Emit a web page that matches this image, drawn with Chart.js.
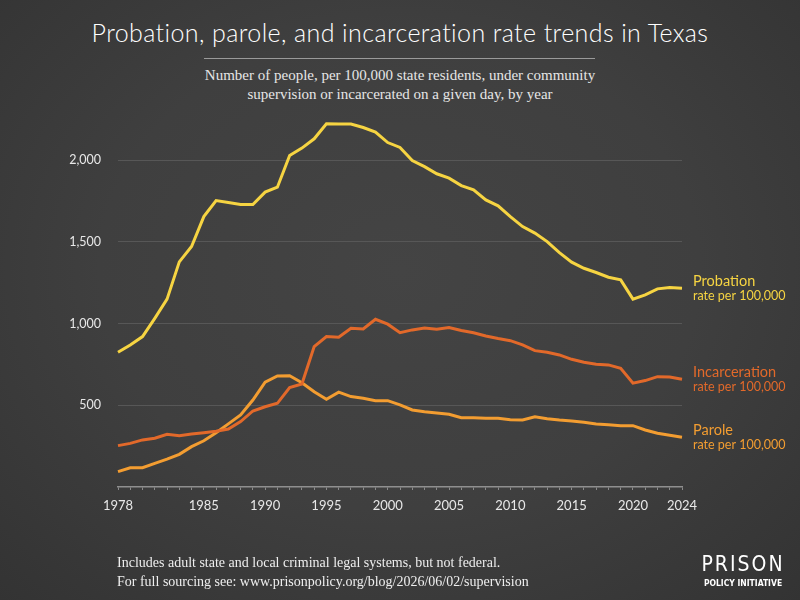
<!DOCTYPE html>
<html>
<head>
<meta charset="utf-8">
<script src="https://cdn.jsdelivr.net/npm/chart.js@4/dist/chart.umd.min.js"></script>
<style>
    html, body { margin: 0; padding: 0; }
    body {
        width: 800px; height: 600px; overflow: hidden; position: relative;
        background: radial-gradient(ellipse 75% 80% at 50% 45%, #444444 0%, #3f3f3f 50%, #323232 100%);
    }
    #chart { position: absolute; left: 0; top: 0; }
    .title {
        position: absolute; top: 17px; left: 0; width: 800px; text-align: center;
        color: #ffffff; font-family: Lato, sans-serif; font-weight: 300; font-size: 25px; letter-spacing: 0.4px;
    }
    .rule { position: absolute; top: 58px; left: 204px; width: 391px; height: 1px; background: #9a9a9a; }
    .subtitle {
        position: absolute; top: 66px; left: 0; width: 800px; text-align: center;
        color: #e6e6e6; font-family: "Liberation Serif", serif; font-size: 15px; line-height: 19px;
    }
    .footer {
        position: absolute; left: 117px; top: 553px;
        color: #eeeeee; font-family: "Liberation Serif", serif; font-size: 14px; line-height: 19px;
    }
    .logo { position: absolute; left: 697px; top: 552px; width: 92px; color: #ffffff; text-align: center; font-family: "DejaVu Sans", sans-serif; }
    .logo .big { font-size: 21px; letter-spacing: 2px; line-height: 25px; font-stretch: condensed; }
    .logo .small { font-size: 8.5px; font-weight: bold; line-height: 12px; letter-spacing: 0; font-stretch: condensed; }
</style>
</head>
<body>
<div class="title">Probation, parole, and incarceration rate trends in Texas</div>
<div class="rule"></div>
<div class="subtitle">Number of people, per 100,000 state residents, under community<br>supervision or incarcerated on a given day, by year</div>
<canvas id="chart" width="800" height="600"></canvas>
<div class="footer">Includes adult state and local criminal legal systems, but not federal.<br>For full sourcing see: www.prisonpolicy.org/blog/2026/06/02/supervision</div>
<div class="logo"><div class="big">PRISON</div><div class="small">POLICY INITIATIVE</div></div>
<script>
const years = [];
for (let y = 1978; y <= 2024; y++) years.push(y);

const xTickLabels = [1978, 1985, 1990, 1995, 2000, 2005, 2010, 2015, 2020, 2024];
const yTickValues = [500, 1000, 1500, 2000];

const probation = [
    824, 869, 920, 1032, 1149, 1377, 1471, 1654, 1752, 1740,
    1728, 1728, 1804, 1834, 2028, 2073, 2130, 2222, 2220, 2220,
    2199, 2171, 2107, 2077, 1997, 1960, 1916, 1889, 1844, 1818,
    1756, 1720, 1654, 1593, 1553, 1501, 1434, 1375, 1338, 1312,
    1283, 1267, 1149, 1175, 1212, 1220, 1216
];

const incarceration = [
    253, 267, 288, 298, 322, 314, 324, 332, 341, 355,
    400, 465, 491, 512, 608, 630, 859, 920, 916, 971,
    967, 1026, 996, 944, 961, 973, 965, 975, 957, 944,
    924, 908, 895, 869, 834, 824, 808, 781, 763, 751,
    747, 726, 635, 651, 675, 673, 659
];

const parole = [
    94, 118, 118, 145, 170, 200, 247, 283, 332, 386,
    441, 532, 641, 679, 681, 638, 583, 537, 580, 553,
    543, 528, 528, 502, 471, 461, 453, 445, 424, 424,
    420, 420, 412, 410, 430, 418, 410, 404, 396, 386,
    381, 375, 375, 349, 329, 316, 304
];

const COLORS = {
    probation: "#f6d442",
    incarceration: "#e2692a",
    parole: "#f39d31",
};

// labels at the right end of each line
const endLabels = {
    id: "endLabels",
    afterDatasetsDraw(chart) {
        const { ctx } = chart;
        const x = chart.chartArea.right + 11;
        chart.data.datasets.forEach((ds, i) => {
            const meta = chart.getDatasetMeta(i);
            const last = meta.data[meta.data.length - 1];
            ctx.save();
            ctx.fillStyle = ds.borderColor;
            ctx.textAlign = "left";
            ctx.textBaseline = "alphabetic";
            ctx.font = "14.5px Lato, sans-serif";
            ctx.fillText(ds.label, x, last.y - 2);
            ctx.font = "12.5px Lato, sans-serif";
            ctx.fillText("rate per 100,000", x, last.y + 12);
            ctx.restore();
        });
    },
};

const lineStyle = {
    borderWidth: 3,
    pointRadius: 0,
    tension: 0,
    fill: false,
};

new Chart(document.getElementById("chart"), {
    type: "line",
    data: {
        labels: years,
        datasets: [
            { label: "Probation", data: probation, borderColor: COLORS.probation, ...lineStyle },
            { label: "Incarceration", data: incarceration, borderColor: COLORS.incarceration, ...lineStyle },
            { label: "Parole", data: parole, borderColor: COLORS.parole, ...lineStyle },
        ],
    },
    options: {
        responsive: false,
        animation: false,
        layout: {
            padding: { top: 111, right: 118, bottom: 83, left: 0 },
        },
        plugins: {
            legend: { display: false },
            tooltip: { enabled: false },
        },
        scales: {
            x: {
                afterFit: (scale) => { scale.height = 30; },
                grid: {
                    drawOnChartArea: false,
                    drawTicks: true,
                    tickLength: 3,
                    color: "#8a8a8a",
                },
                border: { color: "#8f8f8f", width: 1.5 },
                ticks: {
                    autoSkip: false,
                    maxRotation: 0,
                    padding: 8,
                    color: "#e8e8e8",
                    font: { family: "Lato, sans-serif", size: 13 },
                    callback: function (value) {
                        const yr = years[value];
                        return xTickLabels.includes(yr) ? String(yr) : "";
                    },
                },
            },
            y: {
                min: 0,
                max: 2300,
                afterFit: (scale) => { scale.width = 118; },
                afterBuildTicks: (scale) => {
                    scale.ticks = yTickValues.map((v) => ({ value: v }));
                },
                grid: {
                    color: "#575757",
                    lineWidth: 1,
                    drawTicks: false,
                },
                border: { display: false },
                ticks: {
                    padding: 17,
                    color: "#e8e8e8",
                    font: { family: "Lato, sans-serif", size: 12.5 },
                    callback: (value) => Number(value).toLocaleString("en-US"),
                },
            },
        },
    },
    plugins: [endLabels],
});
</script>
</body>
</html>
